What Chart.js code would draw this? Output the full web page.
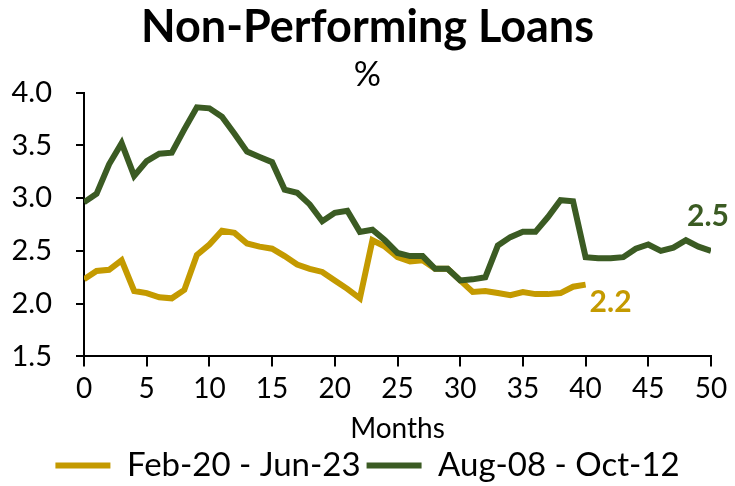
<!DOCTYPE html>
<html>
<head>
<meta charset="utf-8">
<script src="https://cdn.jsdelivr.net/npm/chart.js@4"></script>
<style>
  html, body { margin: 0; padding: 0; background: #fff; }
  #wrap { width: 735px; height: 486px; }
</style>
</head>
<body>
<div id="wrap"><canvas id="nplChart" width="735" height="486"></canvas></div>
<script>
const seriesNames = ["Feb-20 - Jun-23", "Aug-08 - Oct-12"];
const seriesColors = ["#C49A00", "#3B5B23"];

// Feb-20 - Jun-23, months 0..40
const recentNpl = [2.23, 2.31, 2.32, 2.41, 2.12, 2.10, 2.06, 2.05, 2.13, 2.46,
                   2.56, 2.69, 2.67, 2.57, 2.54, 2.52, 2.45, 2.37, 2.33, 2.30,
                   2.22, 2.14, 2.05, 2.60, 2.54, 2.44, 2.40, 2.41, 2.33, 2.33,
                   2.22, 2.11, 2.12, 2.10, 2.08, 2.11, 2.09, 2.09, 2.10, 2.16,
                   2.18];

// Aug-08 - Oct-12, months 0..50
const gfcNpl = [2.96, 3.04, 3.32, 3.52, 3.21, 3.35, 3.42, 3.43, 3.65, 3.86,
                3.85, 3.77, 3.61, 3.44, 3.39, 3.34, 3.08, 3.05, 2.94, 2.78,
                2.86, 2.88, 2.68, 2.70, 2.60, 2.48, 2.45, 2.45, 2.33, 2.33,
                2.22, 2.23, 2.25, 2.55, 2.63, 2.68, 2.68, 2.82, 2.98, 2.97,
                2.44, 2.43, 2.43, 2.44, 2.52, 2.56, 2.50, 2.53, 2.60, 2.54,
                2.50];

const endLabels = ["2.2", "2.5"];

const FONT = "Lato, 'DejaVu Sans', sans-serif";

const toPoints = arr => arr.map((v, i) => ({ x: i, y: v }));

// end-of-series value labels
const endLabelPlugin = {
    id: "endLabels",
    afterDatasetsDraw(chart) {
        const { ctx, scales } = chart;
        const xs = scales.x, ys = scales.y;
        ctx.save();
        ctx.font = "bold 30px " + FONT;
        ctx.textBaseline = "middle";
        ctx.textAlign = "left";

        // gold label sits right-below its last point
        const gi = recentNpl.length - 1;
        ctx.fillStyle = seriesColors[0];
        ctx.fillText(endLabels[0], xs.getPixelForValue(gi) + 4, ys.getPixelForValue(recentNpl[gi]) + 18);

        // green label sits above its last point
        const ri = gfcNpl.length - 1;
        ctx.fillStyle = seriesColors[1];
        ctx.fillText(endLabels[1], xs.getPixelForValue(ri) - 24, ys.getPixelForValue(gfcNpl[ri]) - 35);
        ctx.restore();
    }
};

const ctx = document.getElementById("nplChart").getContext("2d");
new Chart(ctx, {
    type: "line",
    data: {
        datasets: [
            {
                label: seriesNames[0],
                data: toPoints(recentNpl),
                borderColor: seriesColors[0],
                backgroundColor: seriesColors[0],
                borderWidth: 6,
                pointRadius: 0,
                tension: 0,
                order: 2
            },
            {
                label: seriesNames[1],
                data: toPoints(gfcNpl),
                borderColor: seriesColors[1],
                backgroundColor: seriesColors[1],
                borderWidth: 6,
                pointRadius: 0,
                tension: 0,
                order: 1
            }
        ]
    },
    options: {
        responsive: false,
        animation: false,
        layout: { padding: { left: 0, right: 0, top: 0, bottom: -6 } },
        plugins: {
            title: {
                display: true,
                text: "Non-Performing Loans",
                color: "#000",
                font: { family: FONT, size: 45, weight: "bold", lineHeight: 1.1 },
                padding: { top: 3, bottom: 0 }
            },
            subtitle: {
                display: true,
                text: "%",
                color: "#000",
                font: { family: FONT, size: 34, lineHeight: 1.0 },
                padding: { top: 6, bottom: 0 }
            },
            legend: {
                position: "bottom",
                labels: {
                    color: "#000",
                    font: { family: FONT, size: 33 },
                    boxWidth: 55,
                    boxHeight: 6,
                    padding: 6,
                    generateLabels: () => seriesNames.map((name, i) => ({
                        text: name,
                        fillStyle: seriesColors[i],
                        strokeStyle: seriesColors[i],
                        lineWidth: 0,
                        datasetIndex: i
                    }))
                }
            },
            tooltip: { enabled: false }
        },
        scales: {
            x: {
                type: "linear",
                min: 0,
                max: 50,
                ticks: { stepSize: 5, color: "#000", font: { family: FONT, size: 28 }, padding: 6, maxRotation: 0 },
                grid: { drawOnChartArea: false, color: "#000", lineWidth: 2, tickLength: 10 },
                border: { color: "#000", width: 2 },
                title: { display: true, text: "Months", color: "#000", font: { family: FONT, size: 28, lineHeight: 1.0 }, padding: { top: 3, bottom: 0 } },
                afterFit: scale => { scale.paddingRight = 24; }
            },
            y: {
                min: 1.5,
                max: 4.0,
                ticks: {
                    stepSize: 0.5,
                    color: "#000",
                    font: { family: FONT, size: 29 },
                    padding: 24,
                    callback: v => Number(v).toFixed(1)
                },
                grid: { drawOnChartArea: false, color: "#000", lineWidth: 2, tickLength: 8 },
                border: { color: "#000", width: 2 },
                afterFit: scale => { scale.width = 84; }
            }
        }
    },
    plugins: [endLabelPlugin]
});
</script>
</body>
</html>
